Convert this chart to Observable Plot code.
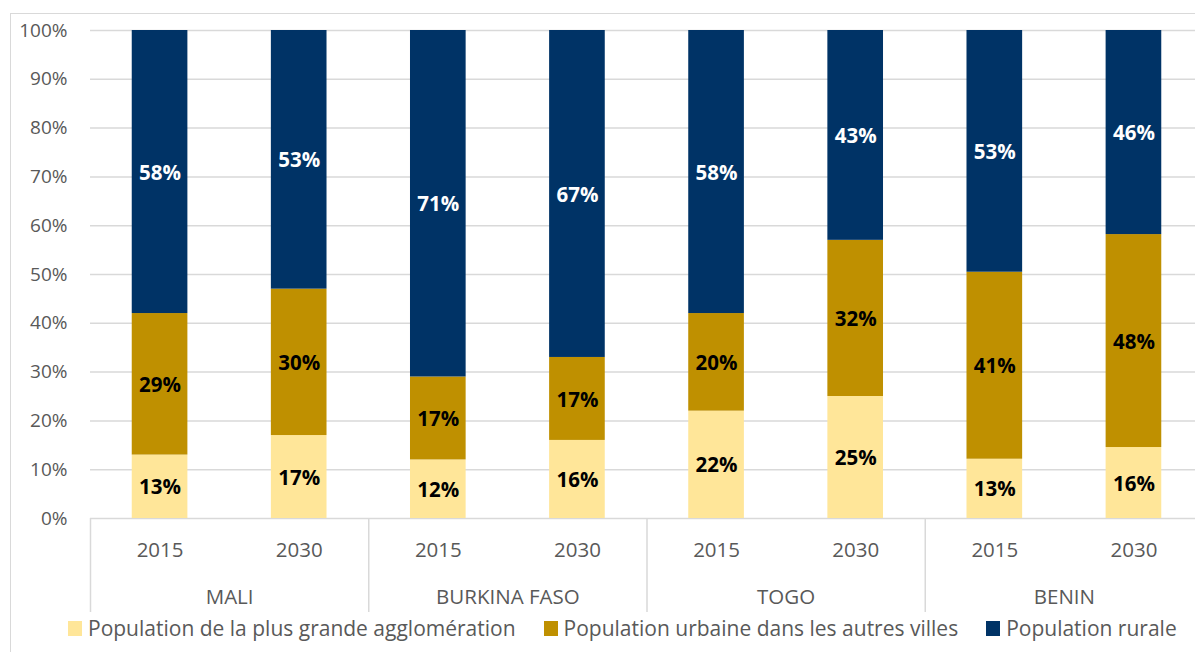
<!DOCTYPE html>
<html>
<head>
<meta charset="utf-8">
<script src="https://cdn.jsdelivr.net/npm/d3@7"></script>
<script src="https://cdn.jsdelivr.net/npm/@observablehq/plot@0.6"></script>
<style>
  html, body { margin: 0; padding: 0; background: #fff; overflow: hidden; }
  #wrap { position: relative; width: 1195px; height: 652px; font-family: "Open Sans", sans-serif; overflow: hidden; }
  #border { position: absolute; left: 10px; top: 13px; width: 1300px; height: 800px; border: 1.5px solid #d9d9d9; box-sizing: border-box; }
  #chart { position: absolute; left: 0; top: 0; }
  #legend { position: absolute; left: 68px; top: 614px; display: flex; align-items: center; gap: 28px; font-size: 21px; color: #595959; white-space: nowrap; }
  .item { display: flex; align-items: center; gap: 6px; }
  .sw { width: 14px; height: 15px; display: inline-block; }
</style>
</head>
<body>
<div id="wrap">
  <div id="border"></div>
  <div id="chart"></div>
  <div id="legend"></div>
</div>
<script>
const countries = ["MALI", "BURKINA FASO", "TOGO", "BENIN"];
const years = ["2015", "2030"];
const series = [
  "Population de la plus grande agglomération",
  "Population urbaine dans les autres villes",
  "Population rurale"
];
const colors = ["#FFE699", "#BF9000", "#003366"];
// values per bar: MALI 2015, MALI 2030, BURKINA 2015, BURKINA 2030, TOGO 2015, TOGO 2030, BENIN 2015, BENIN 2030
const largestCity = [13, 17, 12, 16, 22, 25, 13, 16];
const otherUrban  = [29, 30, 17, 17, 20, 32, 41, 48];
const rural       = [58, 53, 71, 67, 58, 43, 53, 46];
const yTicks = [0, 0.1, 0.2, 0.3, 0.4, 0.5, 0.6, 0.7, 0.8, 0.9, 1];

const seriesValues = [largestCity, otherUrban, rural];
const bars = [];
countries.forEach((c, ci) => years.forEach((yr, yi) => bars.push({i: ci * 2 + yi, country: c, year: yr})));
const rows = [];
bars.forEach(b => series.forEach((s, si) => rows.push({...b, series: s, value: seriesValues[si][b.i]})));
const groupEdges = d3.range(0, bars.length + 1, years.length);

const font = '"Open Sans", sans-serif';
const chart = Plot.plot({
  width: 1195,
  height: 612,
  marginLeft: 90,
  marginRight: 0,
  marginTop: 30,
  marginBottom: 94,
  style: {fontFamily: font, fontSize: "19px", color: "#595959", background: "transparent"},
  x: {domain: [0, bars.length], range: [90, 1203], axis: null},
  y: {domain: [0, 1], axis: null},
  color: {domain: series, range: colors},
  marks: [
    Plot.ruleY(yTicks, {stroke: "#d9d9d9", strokeWidth: 1.5}),
    Plot.rectY(rows, {x: d => d.i, x1: d => d.i + 0.3, x2: d => d.i + 0.7, y: "value", fill: "series", offset: "normalize"}),
    Plot.text(rows, Plot.stackY({
      x: d => d.i + 0.5, y: "value", z: "series", offset: "normalize",
      text: d => d.value + "%",
      fill: d => d.series === series[2] ? "white" : "black",
      fontWeight: "bold", fontSize: 20.5, dy: 1
    })),
    Plot.axisY(yTicks, {label: null, tickSize: 0, tickPadding: 23, tickFormat: d => Math.round(d * 100) + "%", fill: "#595959", fontSize: 19}),
    Plot.ruleX(groupEdges, {x: d => d, y1: 0, y2: -0.193, stroke: "#d9d9d9", strokeWidth: 1.5}),
    Plot.text(bars, {x: d => d.i + 0.5, y: 0, dy: 32, text: "year", fill: "#595959", fontSize: 20.5}),
    Plot.text(countries, {x: (d, k) => k * years.length + years.length / 2, y: 0, dy: 79, text: d => d, fill: "#595959", fontSize: 20.5})
  ]
});
document.getElementById("chart").appendChild(chart);

const legend = document.getElementById("legend");
series.forEach((s, k) => {
  const it = document.createElement("div");
  it.className = "item";
  it.innerHTML = `<span class="sw" style="background:${colors[k]}"></span><span>${s}</span>`;
  legend.appendChild(it);
});
</script>
</body>
</html>
